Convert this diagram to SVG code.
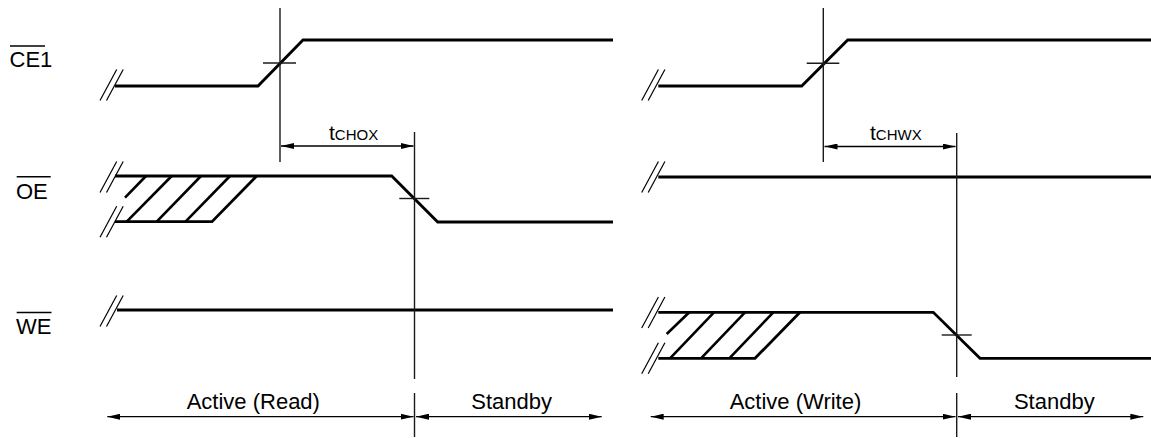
<svg xmlns="http://www.w3.org/2000/svg" width="1151" height="438" viewBox="0 0 1151 438">
<style>
.sig{fill:none;stroke:#000;stroke-width:2.8;stroke-linejoin:miter;stroke-linecap:butt}
.hatch{fill:none;stroke:#000;stroke-width:2.6}
.brk{fill:none;stroke:#000;stroke-width:1.2}
.thin{fill:none;stroke:#1a1a1a;stroke-width:1.4}
.dim{fill:none;stroke:#000;stroke-width:1.3}
.ovl{fill:none;stroke:#000;stroke-width:1.4}
.lbl{font-family:"Liberation Sans",Arial,sans-serif;font-size:22px;fill:#000}
.tl{font-family:"Liberation Sans",Arial,sans-serif;font-size:21px;fill:#000}
.sub{font-size:15px}
</style>
<defs>
<marker id="ah" viewBox="0 0 13 6" refX="13" refY="3" markerWidth="13" markerHeight="6" markerUnits="userSpaceOnUse" orient="auto-start-reverse">
<path d="M0,0 L13,3 L0,6 Z" fill="#000"/>
</marker>
<g id="brkmark">
<line class="brk" x1="0" y1="15.5" x2="16.7" y2="-15.5"/>
<line class="brk" x1="6.5" y1="15.5" x2="23.2" y2="-15.5"/>
</g>
</defs>
<rect width="1151" height="438" fill="#fff"/>

<g id="labels">
<text class="lbl" x="9.5" y="67">CE1</text>
<line class="ovl" x1="10" y1="46" x2="45" y2="46"/>
<text class="lbl" x="16" y="199">OE</text>
<line class="ovl" x1="16.7" y1="176.7" x2="50.7" y2="176.7"/>
<text class="lbl" x="16" y="334">WE</text>
<line class="ovl" x1="16.7" y1="312.5" x2="51.5" y2="312.5"/>
</g>

<g id="left-ce1">
<use href="#brkmark" x="100" y="85"/>
<polyline class="sig" points="115,86 258,86 303,40 613,40"/>
</g>
<g id="left-oe">
<use href="#brkmark" x="100" y="177"/>
<use href="#brkmark" x="100" y="221.7"/>
<polyline class="sig" points="115,176 391.7,176 437.7,222 613,222"/>
<polyline class="sig" points="115,221.7 212,221.7 256.7,176"/>
<line class="hatch" x1="125" y1="197.7" x2="146" y2="176"/>
<line class="hatch" x1="126.7" y1="221.7" x2="171.7" y2="176"/>
<line class="hatch" x1="156.7" y1="221.7" x2="201" y2="176"/>
<line class="hatch" x1="185.5" y1="221.7" x2="230" y2="176"/>
</g>
<g id="left-we">
<use href="#brkmark" x="100" y="311"/>
<polyline class="sig" points="117,310 613,310"/>
</g>

<g id="right-ce1">
<use href="#brkmark" x="641.7" y="85"/>
<polyline class="sig" points="658.3,86 801.7,86 847.7,40 1151,40"/>
</g>
<g id="right-oe">
<use href="#brkmark" x="641.7" y="177"/>
<polyline class="sig" points="658.3,177 1151,177"/>
</g>
<g id="right-we">
<use href="#brkmark" x="641.7" y="312.5"/>
<use href="#brkmark" x="641.7" y="358.3"/>
<polyline class="sig" points="658.3,312.3 933.3,312.3 980,358.3 1151,358.3"/>
<polyline class="sig" points="658.3,358.3 755,358.3 800,312.3"/>
<line class="hatch" x1="666.7" y1="334" x2="689.3" y2="312.3"/>
<line class="hatch" x1="670" y1="358.3" x2="714" y2="312.3"/>
<line class="hatch" x1="701" y1="358.3" x2="745" y2="312.3"/>
<line class="hatch" x1="729.3" y1="358.3" x2="773.3" y2="312.3"/>
</g>

<g id="connectors">
<line class="thin" x1="280" y1="8" x2="280" y2="162"/>
<line class="thin" x1="263" y1="63" x2="296" y2="63"/>
<line class="thin" x1="414.5" y1="132" x2="414.5" y2="379"/>
<line class="thin" x1="414.5" y1="393" x2="414.5" y2="437"/>
<line class="thin" x1="399.3" y1="198.5" x2="429.3" y2="198.5"/>
<line class="thin" x1="823.3" y1="8" x2="823.3" y2="162"/>
<line class="thin" x1="806.7" y1="63.3" x2="839.3" y2="63.3"/>
<line class="thin" x1="956.7" y1="133" x2="956.7" y2="377"/>
<line class="thin" x1="956.7" y1="393" x2="956.7" y2="437"/>
<line class="thin" x1="941.7" y1="335" x2="971.7" y2="335"/>

<line class="dim" x1="281" y1="146" x2="413.5" y2="146" marker-start="url(#ah)" marker-end="url(#ah)"/>
<line class="dim" x1="824.5" y1="146.5" x2="955.5" y2="146.5" marker-start="url(#ah)" marker-end="url(#ah)"/>

<line class="dim" x1="107.3" y1="416.7" x2="413.5" y2="416.7" marker-start="url(#ah)" marker-end="url(#ah)"/>
<line class="dim" x1="416" y1="416.7" x2="601.7" y2="416.7" marker-start="url(#ah)" marker-end="url(#ah)"/>
<line class="dim" x1="650.7" y1="416.7" x2="955.5" y2="416.7" marker-start="url(#ah)" marker-end="url(#ah)"/>
<line class="dim" x1="958" y1="416.7" x2="1143.3" y2="416.7" marker-start="url(#ah)" marker-end="url(#ah)"/>
</g>

<g id="timing-labels">
<text class="tl" x="329" y="140">t<tspan class="sub">CHOX</tspan></text>
<text class="tl" x="870" y="140">t<tspan class="sub">CHWX</tspan></text>
<text class="lbl" x="253.3" y="409.3" text-anchor="middle">Active (Read)</text>
<text class="lbl" x="511.7" y="409.3" text-anchor="middle">Standby</text>
<text class="lbl" x="795.5" y="409.3" text-anchor="middle">Active (Write)</text>
<text class="lbl" x="1054.3" y="409.3" text-anchor="middle">Standby</text>
</g>
</svg>
